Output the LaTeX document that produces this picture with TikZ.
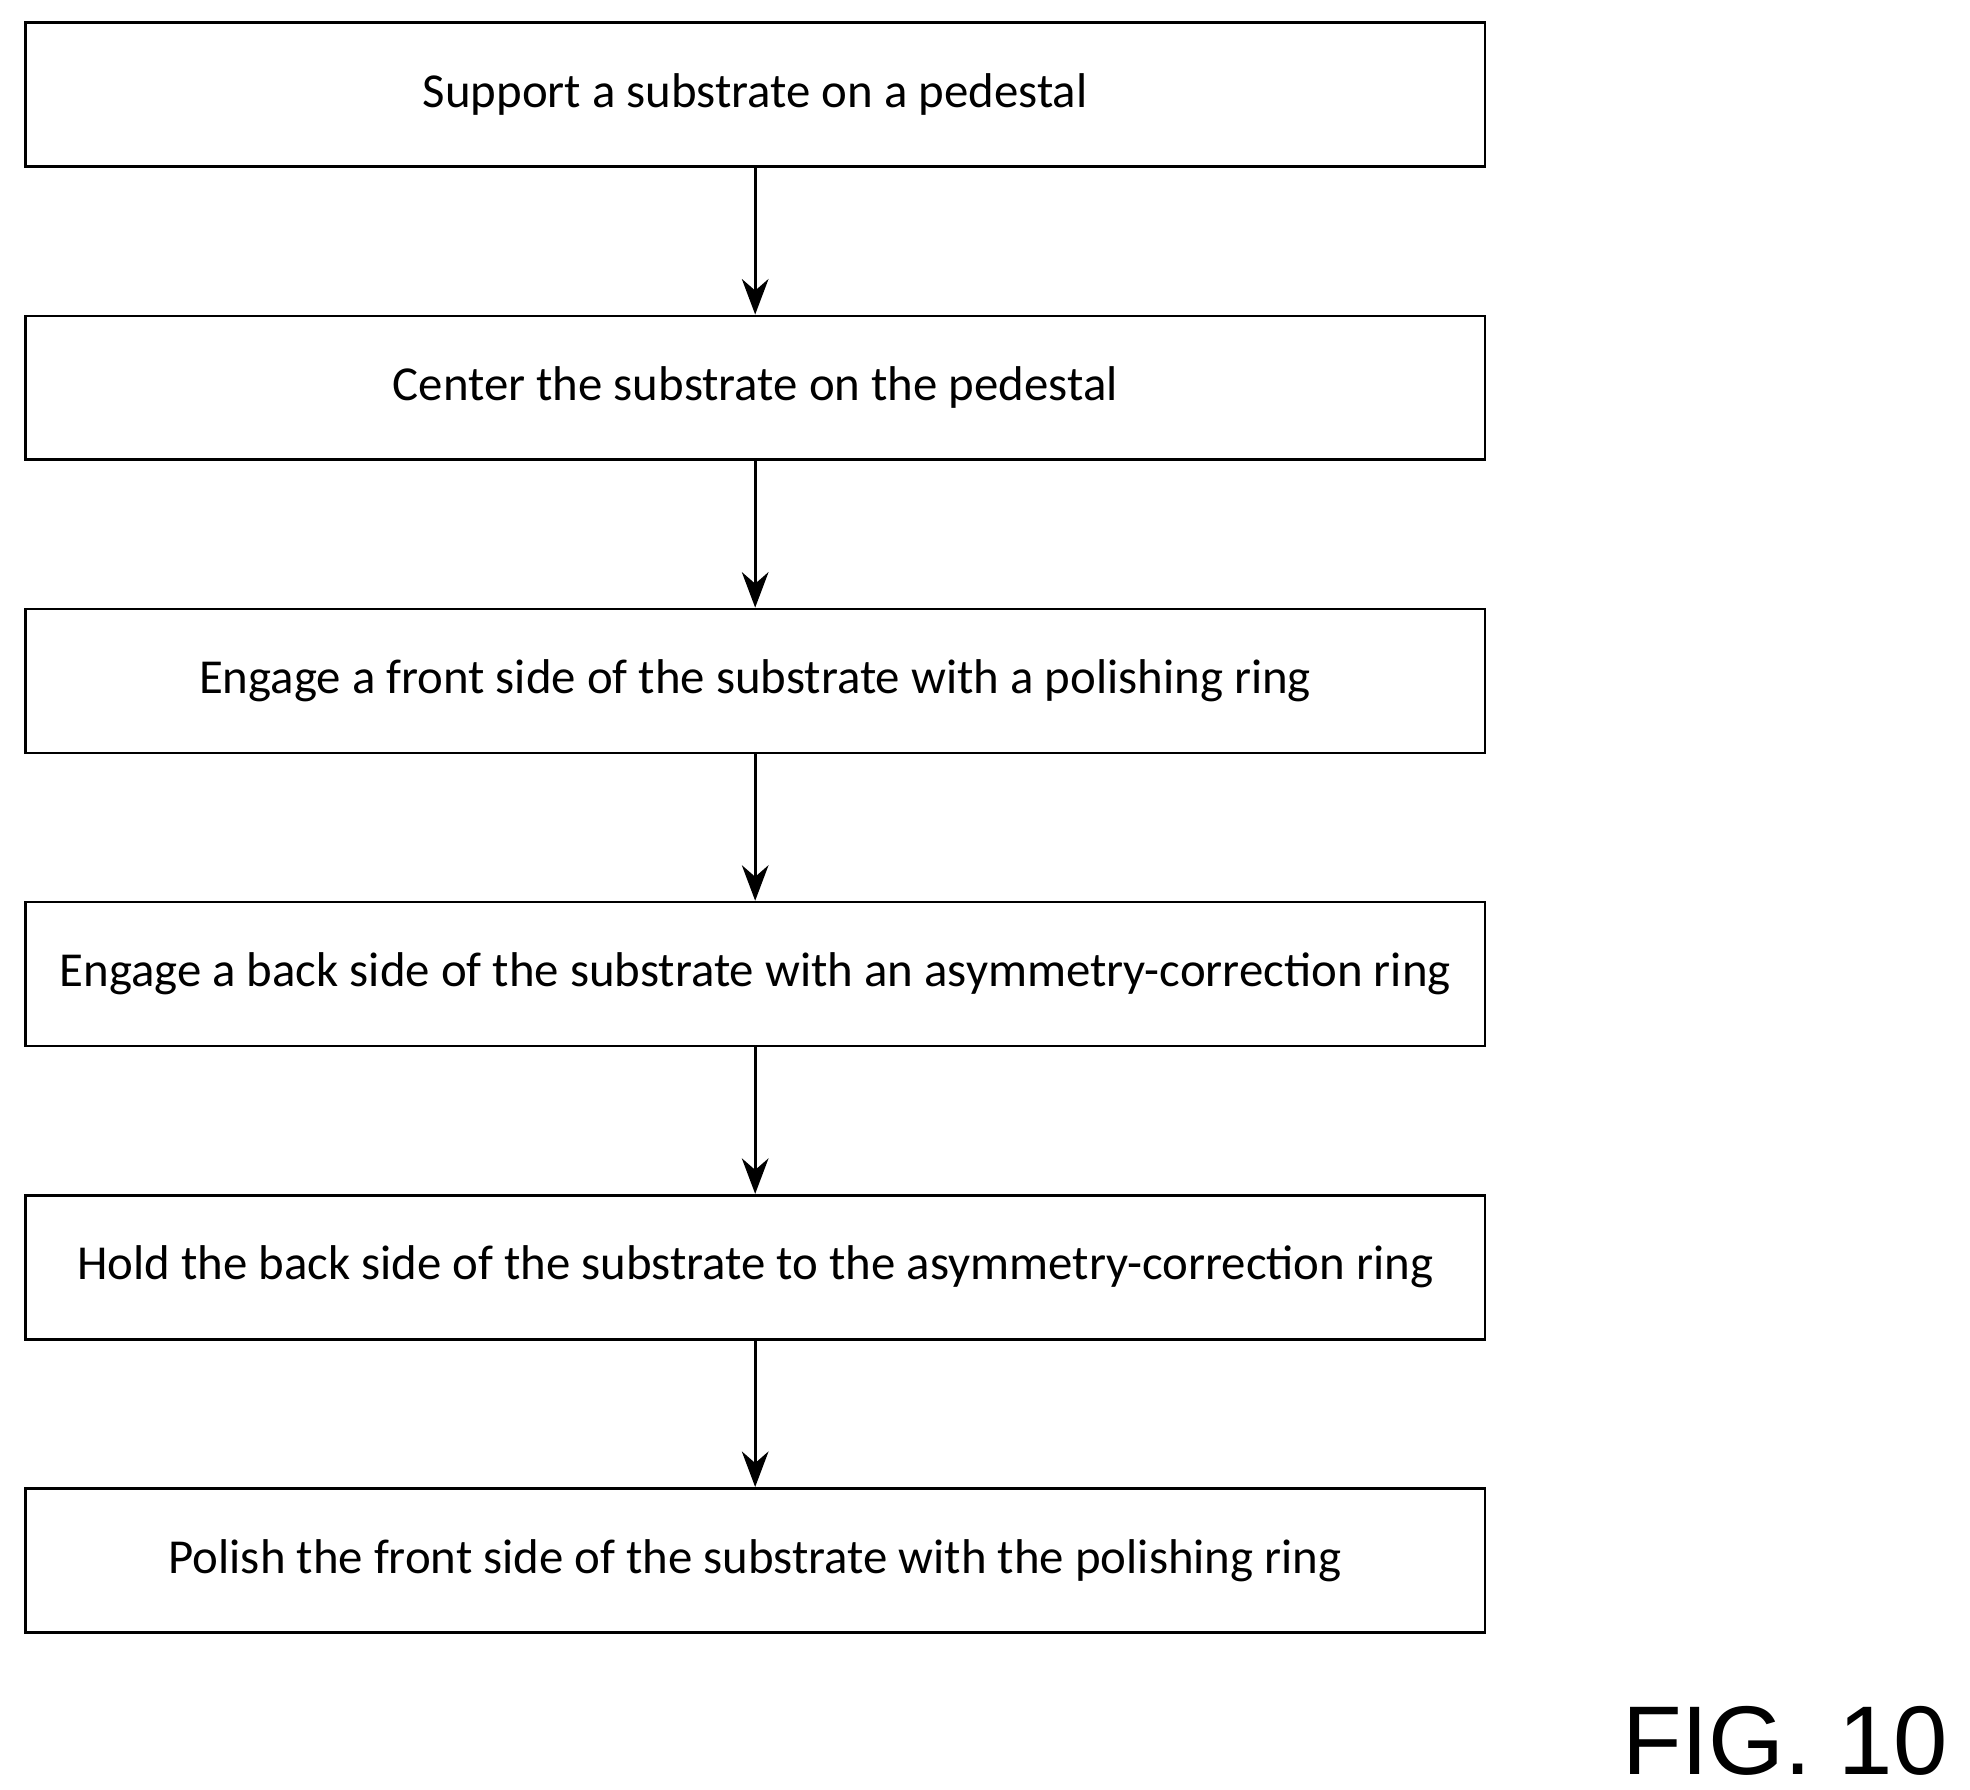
\documentclass[tikz,border=0pt]{standalone}
\usepackage{fontspec}
\setmainfont{Carlito}
\newfontfamily\figfont{Liberation Sans}
\usetikzlibrary{positioning,arrows.meta}

\begin{document}
\begin{tikzpicture}[node distance=1.16cm, semithick,
    stepbox/.style={draw, minimum width=11.56cm, minimum height=1.14cm, font=\fontsize{11pt}{13pt}\selectfont}]
    \useasboundingbox (0,0) rectangle (15.6,-14.17);
    % Define step boxes
    \node[stepbox] (S1) at (5.98,-0.75) {Support a substrate on a pedestal};
    \node[stepbox, below=of S1] (S2) {Center the substrate on the pedestal};
    \node[stepbox, below=of S2] (S3) {Engage a front side of the substrate with a polishing ring};
    \node[stepbox, below=of S3] (S4) {Engage a back side of the substrate with an asymmetry-correction ring};
    \node[stepbox, below=of S4] (S5) {Hold the back side of the substrate to the asymmetry-correction ring};
    \node[stepbox, below=of S5] (S6) {Polish the front side of the substrate with the polishing ring};
    \node[anchor=base east, font=\figfont\fontsize{22pt}{24pt}\selectfont] (fig) at (15.55,-14.05) {FIG. 10};

    % Draw arrows
    \draw[-{Stealth[length=8pt,width=6pt]}] (S1) -- (S2);
    \draw[-{Stealth[length=8pt,width=6pt]}] (S2) -- (S3);
    \draw[-{Stealth[length=8pt,width=6pt]}] (S3) -- (S4);
    \draw[-{Stealth[length=8pt,width=6pt]}] (S4) -- (S5);
    \draw[-{Stealth[length=8pt,width=6pt]}] (S5) -- (S6);
\end{tikzpicture}
\end{document}
